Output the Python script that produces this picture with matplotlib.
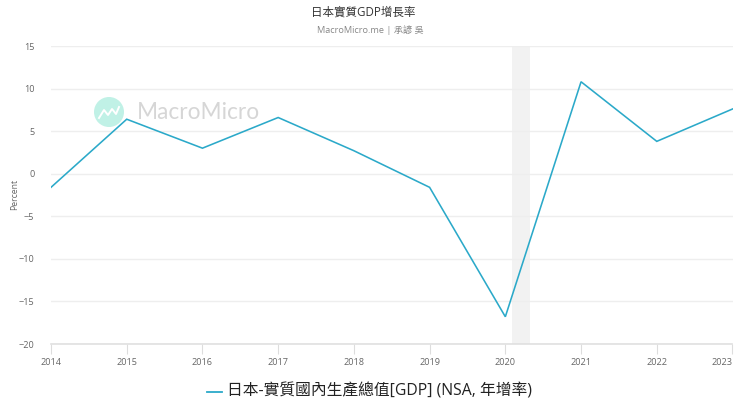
import matplotlib
matplotlib.use("Agg")
import matplotlib.pyplot as plt
from matplotlib.patches import Circle

plt.rcParams['font.family'] = ['Open Sans', 'Noto Sans CJK TC', 'DejaVu Sans']

years = [2014, 2015, 2016, 2017, 2018, 2019, 2020, 2021, 2022, 2023]
gdp_growth = [-1.6, 6.4, 3.0, 6.6, 2.7, -1.6, -16.8, 10.8, 3.8, 7.6]
y_ticks = [-20, -15, -10, -5, 0, 5, 10, 15]
recession = (2020.09, 2020.33)
title = "日本實質GDP增長率"
subtitle = "MacroMicro.me | 承諺 吳"
series_name = "日本-實質國內生產總值[GDP] (NSA, 年增率)"

W, H = 740, 416
L, R, T, B = 51, 732.5, 46, 344
fig = plt.figure(figsize=(W / 100, H / 100), dpi=100, facecolor='white')
ax = fig.add_axes([L / W, 1 - B / H, (R - L) / W, (B - T) / H])
ax.set_xlim(years[0], years[-1])
ax.set_ylim(-20, 15)
ax.set_facecolor('white')

ax.axvspan(*recession, color='#f2f2f2', lw=0, zorder=1)
ax.plot(years, gdp_growth, color='#2ba9c9', lw=1.15, zorder=3, solid_joinstyle='miter', clip_on=True)

ax.set_yticks(y_ticks)
ax.set_xticks(years)
ax.set_xticklabels([str(y) for y in years])
ax.get_xticklabels()[-1].set_ha('right')
ax.grid(axis='y', color='#eeeeee', lw=1, zorder=0)
ax.grid(axis='x', visible=False)
for s in ['top', 'right', 'left']:
    ax.spines[s].set_visible(False)
ax.spines['bottom'].set_color('#e0e0e0')
ax.spines['bottom'].set_linewidth(1.2)
ax.tick_params(axis='x', colors='#666666', labelsize=6.6, length=7, width=0.8, color='#dddddd', pad=3)
ax.tick_params(axis='y', colors='#666666', labelsize=6.6, length=0, pad=12)
ax.set_ylabel("Percent", fontsize=6.2, color='#666666', va='center')
ax.yaxis.set_label_coords(-(L - 15) / (R - L), 0.5)

# watermark
wm = fig.add_axes([0, 0, 1, 1], zorder=0)
wm.set_xlim(0, W); wm.set_ylim(H, 0); wm.axis('off')
wm.add_patch(Circle((109, 112), 15, color='#c0f1e6', lw=0))
wm.plot([99, 104, 108, 112, 116, 119], [118, 110, 115, 109, 114, 107], color='white', lw=1.4)
wm.text(137, 112.5, "MacroMicro", fontsize=16.3, color='#d6d6d6', va='center', ha='left', family='Lato')
ax.patch.set_alpha(0)

fig.text(363 / W, 1 - 12 / H, title, fontsize=8.3, color='#333333', ha='center', va='center')
fig.text(370 / W, 1 - 30 / H, subtitle, fontsize=6.6, color='#888888', ha='center', va='center')

# legend
leg = fig.add_axes([0, 0, 1, 1], zorder=5)
leg.set_xlim(0, W); leg.set_ylim(H, 0); leg.axis('off')
leg.plot([206.5, 222], [392, 392], color='#2ba9c9', lw=1.3)
leg.text(227, 391, series_name, fontsize=11.35, color='#222222', ha='left', va='center')

fig.savefig('out.png', dpi=100, facecolor='white')
